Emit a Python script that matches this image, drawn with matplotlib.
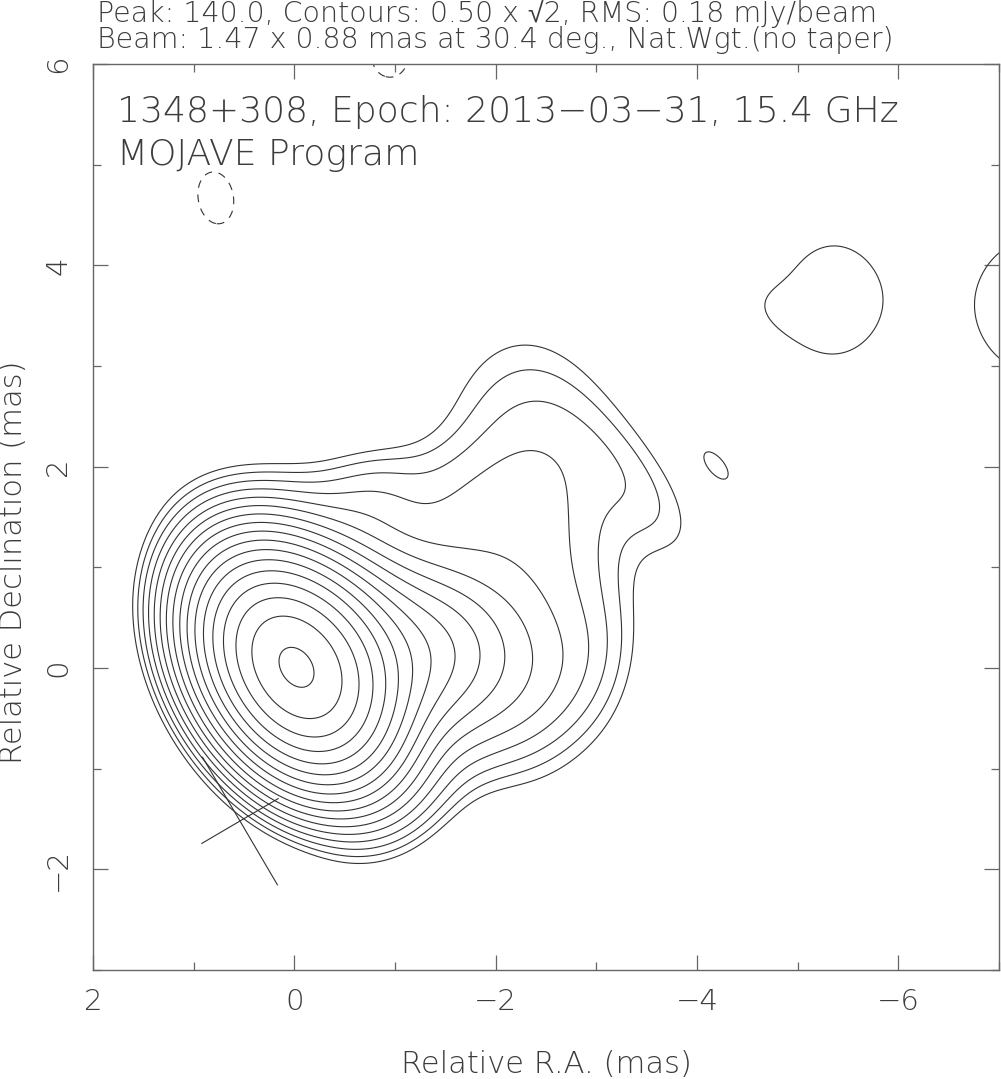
import numpy as np
import matplotlib
matplotlib.use("Agg")
import matplotlib.pyplot as plt

# --- map description ---
source = "1348+308"
epoch = "2013-03-31"
freq_ghz = 15.4
peak = 140.0          # mJy/beam
base_level = 0.50     # lowest contour, mJy/beam
rms = 0.18
beam_maj, beam_min, beam_pa = 1.47, 0.88, 30.4
beam_center = (0.54, -1.52)

# gaussian components (already convolved with the beam) that rebuild the map
#            core   J1     J2     J3     plume  lobe   S2     N1     N2     N3     S1     B1     V
comp_ra   = [0.00, -0.55, -1.35, -2.30, -2.40, -3.45, -2.95, -0.50, -0.80, -1.40, -2.00, -1.10, -1.70,
             -5.35, -4.72, -7.30, -4.20,  0.78, -0.95]
comp_dec  = [0.00,  0.25,  0.15,  0.00,  1.75,  1.75,  0.10,  1.45,  1.75,  2.00, -0.55, -1.35,  1.55,
             3.66,  3.58,  3.60,  2.01,  4.67,  6.08]
comp_amp  = [131.0, 12.0,  7.0,   1.3,   1.42,  0.55,  0.40,  0.9,   0.5,   0.2,   0.45,  0.5,   0.45,
             0.64,  0.15,  0.68,  0.55, -0.6,  -0.6]
comp_smaj = [0.61,  0.55,  0.50,  0.70,  1.00,  0.70,  0.60,  0.90,  0.35,  0.50,  0.80,  0.50,  0.45,
             0.75,  0.30,  0.80,  0.26,  0.43,  0.35]
comp_smin = [0.42,  0.45,  0.50,  0.45,  0.60,  0.30,  0.35,  0.40,  0.30,  0.30,  0.35,  0.30,  0.35,
             0.62,  0.20,  0.60,  0.12,  0.29,  0.30]
comp_pa   = [32.0,  30.0,  0.0,   0.0,   8.0,   40.0,  0.0,   80.0,  90.0,  90.0,  128.0, 128.0, 90.0,
             0.0,   70.0,  0.0,   39.0,  10.0,  0.0]

ra_lim = (2.0, -7.0)
dec_lim = (-3.0, 6.0)


def brightness(ra, dec):
    img = np.zeros_like(ra)
    for x0, y0, a, smj, smn, pa in zip(comp_ra, comp_dec, comp_amp, comp_smaj, comp_smin, comp_pa):
        t = np.radians(pa)
        dx, dy = ra - x0, dec - y0
        u = dx * np.sin(t) + dy * np.cos(t)     # along major axis
        v = dx * np.cos(t) - dy * np.sin(t)     # along minor axis
        img += a * np.exp(-0.5 * ((u / smj) ** 2 + (v / smn) ** 2))
    return img


def main():
    plt.rcParams['font.family'] = ['DejaVu Sans', 'Noto Sans', 'Liberation Sans']
    plt.rcParams['font.weight'] = 200
    txt = '#3c3c3c'
    line = '#333333'
    fig = plt.figure(figsize=(10.01, 10.79), dpi=100)
    ax = fig.add_axes([93 / 1001, 109 / 1079, 906 / 1001, 906 / 1079])

    ra = np.linspace(2.3, -7.8, 506)
    dec = np.linspace(-3.3, 6.5, 491)
    RA, DEC = np.meshgrid(ra, dec)
    img = brightness(RA, DEC)

    pos = [base_level * np.sqrt(2) ** k for k in range(30) if base_level * np.sqrt(2) ** k < peak]
    ax.contour(RA, DEC, img, levels=pos, colors=line, linewidths=0.8)
    ax.contour(RA, DEC, img, levels=[-base_level], colors=line, linewidths=0.8,
               linestyles=[(0, (7, 6))])

    # beam cross
    bx, by = beam_center
    t = np.radians(beam_pa)
    for length, ang in ((beam_maj, t), (beam_min, t + np.pi / 2)):
        dx, dy = 0.5 * length * np.sin(ang), 0.5 * length * np.cos(ang)
        ax.plot([bx - dx, bx + dx], [by - dy, by + dy], color=line, lw=0.8)

    ax.set_xlim(*ra_lim)
    ax.set_ylim(*dec_lim)
    ax.set_xticks([2, 0, -2, -4, -6])
    ax.set_xticks(np.arange(-7, 2, 1), minor=True)
    ax.set_yticks([-2, 0, 2, 4, 6])
    ax.set_yticks(np.arange(-3, 6, 1), minor=True)
    ax.set_xticklabels(['2', '0', '\u22122', '\u22124', '\u22126'])
    ax.set_yticklabels(['\u22122', '0', '2', '4', '6'])
    ax.tick_params(which='both', direction='in', top=True, right=True, color='#666666',
                   labelcolor=txt, labelsize=21)
    ax.tick_params(which='major', length=11, width=0.9)
    ax.tick_params(which='minor', length=5.5, width=0.9)
    ax.tick_params(axis='x', pad=13)
    ax.tick_params(axis='y', pad=15, labelrotation=90)
    for lab in ax.get_yticklabels():
        lab.set_va('center')
    for s in ax.spines.values():
        s.set_color('#666666')
        s.set_linewidth(1.0)

    fig.text(546 / 1001, 1 - 1073 / 1079, 'Relative R.A. (mas)', fontsize=22, color=txt,
             ha='center', va='baseline')
    fig.text(14 / 1001, 517 / 1079, 'Relative Declination (mas)', fontsize=22, color=txt,
             ha='center', va='center', rotation=90)

    fig.text(97 / 1001, 1 - 22 / 1079,
             'Peak: %.1f, Contours: %.2f x \u221a2, RMS: %.2f mJy/beam' % (peak, base_level, rms),
             fontsize=20.5, color=txt, va='baseline')
    fig.text(97 / 1001, 1 - 48 / 1079,
             'Beam: %.2f x %.2f mas at %.1f deg., Nat.Wgt.(no taper)' % (beam_maj, beam_min, beam_pa),
             fontsize=20.5, color=txt, va='baseline')
    fig.text(117 / 1001, 1 - 122 / 1079,
             '%s, Epoch: %s, %.1f GHz' % (source, epoch.replace('-', '\u2212'), freq_ghz),
             fontsize=26, color=txt, va='baseline')
    fig.text(117 / 1001, 1 - 165 / 1079, 'MOJAVE Program', fontsize=26, color=txt, va='baseline')

    fig.savefig('out.png', dpi=100)


if __name__ == '__main__':
    main()
